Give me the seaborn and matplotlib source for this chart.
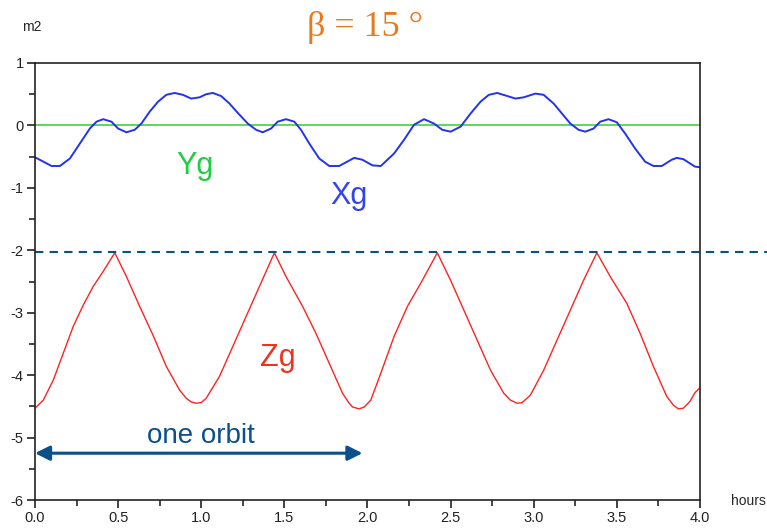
import numpy as np
import pandas as pd
import matplotlib
matplotlib.use("Agg")
import matplotlib.pyplot as plt
from matplotlib.ticker import MultipleLocator, FormatStrFormatter
import seaborn as sns

# Zg (red)
zg_h = [0.00, 0.05, 0.11, 0.17, 0.23, 0.29, 0.35, 0.41, 0.48, 0.55, 0.63, 0.71,
        0.79, 0.87, 0.91, 0.94, 0.97, 1.00, 1.03, 1.11, 1.19, 1.27, 1.35, 1.44, 1.51, 1.61,
        1.69, 1.77, 1.85, 1.89, 1.91, 1.95, 1.98, 2.02, 2.08, 2.16, 2.24, 2.32, 2.42, 2.50,
        2.58, 2.66, 2.74, 2.82, 2.86, 2.90, 2.93, 2.98, 3.06, 3.14, 3.22, 3.30, 3.38,
        3.46, 3.56, 3.64, 3.72, 3.80, 3.84, 3.87, 3.90, 3.94, 3.97, 4.00]
zg_v = [-4.53, -4.40, -4.08, -3.65, -3.22, -2.88, -2.58, -2.34, -2.04, -2.42, -2.90, -3.36,
        -3.86, -4.24, -4.37, -4.43, -4.45, -4.44, -4.37, -4.02, -3.54, -3.06, -2.58, -2.04, -2.42, -2.90,
        -3.33, -3.81, -4.29, -4.45, -4.51, -4.54, -4.51, -4.40, -3.97, -3.38, -2.90, -2.53, -2.04, -2.48,
        -2.96, -3.44, -3.92, -4.29, -4.40, -4.45, -4.44, -4.32, -3.92, -3.44, -2.96, -2.48, -2.04,
        -2.42, -2.85, -3.33, -3.86, -4.34, -4.48, -4.54, -4.53, -4.42, -4.28, -4.20]

# Xg (blue)
xg_h = [0.00, 0.05, 0.10, 0.15, 0.21, 0.27, 0.33, 0.37, 0.41, 0.46, 0.50, 0.55,
        0.60, 0.64, 0.69, 0.74, 0.79, 0.84, 0.89, 0.94, 0.99, 1.03, 1.07, 1.12,
        1.17, 1.22, 1.28, 1.33, 1.37, 1.42, 1.46, 1.51, 1.56, 1.60, 1.65, 1.71,
        1.77, 1.83, 1.92, 1.97, 2.03, 2.08, 2.16, 2.22, 2.28, 2.34, 2.40, 2.45,
        2.50, 2.56, 2.62, 2.68, 2.73, 2.78, 2.83, 2.89, 2.94, 3.01, 3.06, 3.12,
        3.17, 3.22, 3.27, 3.31, 3.36, 3.40, 3.45, 3.50, 3.55, 3.61, 3.67, 3.72,
        3.77, 3.83, 3.86, 3.90, 3.97, 4.00]
xg_v = [-0.51, -0.58, -0.65, -0.65, -0.53, -0.29, -0.05, 0.06, 0.10, 0.06, -0.05, -0.11,
        -0.07, 0.03, 0.22, 0.38, 0.49, 0.52, 0.49, 0.43, 0.45, 0.50, 0.52, 0.47,
        0.35, 0.20, 0.03, -0.07, -0.11, -0.05, 0.06, 0.10, 0.06, -0.07, -0.29, -0.53,
        -0.65, -0.65, -0.52, -0.55, -0.64, -0.65, -0.45, -0.23, 0.01, 0.10, 0.03, -0.07,
        -0.10, -0.02, 0.19, 0.38, 0.49, 0.52, 0.48, 0.43, 0.45, 0.51, 0.49, 0.35,
        0.19, 0.03, -0.07, -0.10, -0.05, 0.06, 0.10, 0.05, -0.13, -0.37, -0.58, -0.65,
        -0.65, -0.55, -0.52, -0.54, -0.66, -0.67]

# Yg (green) stays at zero
yg_h = [0.0, 4.0]
yg_v = [0.0, 0.0]

peak_level = -2.03
orbit_start, orbit_end, orbit_y = 0.0, 1.97, -5.25

sns.set_style("ticks")
plt.rcParams['font.family'] = ['Liberation Sans', 'DejaVu Sans']
plt.rcParams['axes.unicode_minus'] = False

fig = plt.figure(figsize=(7.67, 5.28), dpi=100)
ax = fig.add_axes([0.0456, 0.053, 0.867, 0.8277])

sns.lineplot(x=yg_h, y=yg_v, ax=ax, color="#33cc33", lw=1.1)
sns.lineplot(x=xg_h, y=xg_v, ax=ax, color="#2233ee", lw=1.4)
sns.lineplot(x=zg_h, y=zg_v, ax=ax, color="#ff2222", lw=1.0)

# dashed peak line, runs past the right edge of the axes
ax.plot([0, 4.41], [peak_level, peak_level], ls=(0, (4, 3)), color="#0b4f8c",
        lw=1.5, clip_on=False)

ax.annotate("", xy=(orbit_end, orbit_y), xytext=(orbit_start, orbit_y),
            arrowprops=dict(arrowstyle="<|-|>", color="#0b4f8c", lw=2.2,
                            mutation_scale=22, shrinkA=0, shrinkB=0))
ax.text(1.0, -4.97, "one orbit", color="#0b4f8c", fontsize=20,
        ha="center", va="center")

ax.text(0.96, -0.65, "Yg", color="#22cc44", fontsize=22, ha="center", va="center")
ax.text(1.89, -1.13, "Xg", color="#3344ee", fontsize=22, ha="center", va="center")
ax.text(1.46, -3.72, "Zg", color="#ee3322", fontsize=22, ha="center", va="center")

ax.set_xlim(0, 4)
ax.set_ylim(-6, 1)
ax.xaxis.set_major_locator(MultipleLocator(0.5))
ax.xaxis.set_minor_locator(MultipleLocator(0.25))
ax.yaxis.set_major_locator(MultipleLocator(1))
ax.yaxis.set_minor_locator(MultipleLocator(0.5))
ax.xaxis.set_major_formatter(FormatStrFormatter("%.1f"))
ax.tick_params(which="major", direction="out", length=6, width=1.2,
               labelsize=10.5, colors="#222222", pad=2)
ax.tick_params(which="minor", direction="out", length=4, width=1.2)
ax.set_xlabel("")
ax.set_ylabel("")
for s in ax.spines.values():
    s.set_visible(True)
    s.set_color("#222222")
    s.set_linewidth(1.2)

fig.text(0.041, 0.949, "m2", fontsize=10, ha="center", va="center")
fig.text(0.976, 0.051, "hours", fontsize=10, ha="center", va="center")
fig.text(0.476, 0.947, "β = 15 °", color="#e87a1e", fontsize=26,
         family=["Liberation Serif", "DejaVu Serif"], ha="center", va="center")

plt.savefig("out.png", dpi=100)
plt.close()
